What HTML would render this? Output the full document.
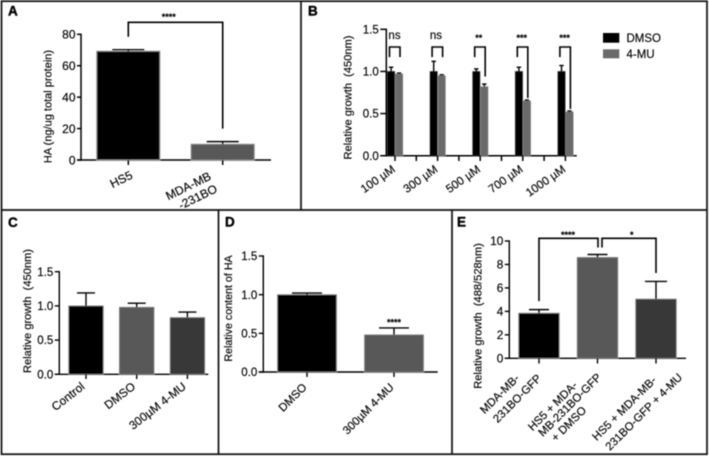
<!DOCTYPE html>
<html>
<head>
<meta charset="utf-8">
<style>
html,body{margin:0;padding:0;background:#fff;width:709px;height:457px;overflow:hidden}
svg{display:block;font-family:"Liberation Sans",sans-serif}
text{stroke:#000;stroke-width:0.15px}
</style>
</head>
<body>
<svg id="figure" width="709" height="457" viewBox="0 0 709 457" xmlns="http://www.w3.org/2000/svg">
  <defs><filter id="soft" x="-2%" y="-2%" width="104%" height="104%"><feGaussianBlur stdDeviation="0.4"/></filter></defs>
  <rect width="709" height="457" fill="#fff"/>
  <g id="root" filter="url(#soft)">
    <g stroke="#111" stroke-width="1.7" fill="none">
      <rect x="1.5" y="1.2" width="705.5" height="453"/>
      <line x1="301" y1="1" x2="301" y2="210"/>
      <line x1="1" y1="210" x2="707" y2="210"/>
      <line x1="218.500" y1="210" x2="218.500" y2="454"/>
      <line x1="452" y1="210" x2="452" y2="454"/>
    </g>
  </g>
</svg>
<script>
// Panel A data
const panelACategories = [["HS5"], ["MDA-MB", "-231BO"]];
const panelAValues = [69.2, 10];
const panelAErrors = [1, 1.7];
const panelATicks = [0, 20, 40, 60, 80];
// Panel B data
const panelBCategories = ["100 µM", "300 µM", "500 µM", "700 µM", "1000 µM"];
const panelBDmso = [1, 1, 1, 1, 1];
const panelBDmsoErrors = [0.05, 0.12, 0.03, 0.05, 0.07];
const panelBMu = [0.97, 0.95, 0.82, 0.65, 0.52];
const panelBMuErrors = [0.01, 0.01, 0.03, 0.01, 0.01];
const panelBTicks = [0, 0.5, 1, 1.5];
const panelBSignificance = ["ns", "ns", "**", "***", "***"];
const panelBRightFoot = [1.17, 1.17, 0.94, 0.685, 0.555];
const panelBLeftFoot = [1.17, 1.17, 1.17, 1.17, 1.17];
const panelBBracketTop = 1.29;
// Panel C data
const panelCCategories = ["Control", "DMSO", "300µM 4-MU"];
const panelCValues = [1, 0.98, 0.83];
const panelCErrors = [0.19, 0.06, 0.08];
const panelCTicks = [0, 0.5, 1, 1.5];
// Panel D data
const panelDCategories = ["DMSO", "300µM 4-MU"];
const panelDValues = [1, 0.48];
const panelDErrors = [0.02, 0.09];
const panelDTicks = [0, 0.5, 1, 1.5];
// Panel E data
const panelECategories = [["MDA-MB-", "231BO-GFP"], ["HS5 + MDA-", "MB-231BO-GFP", "+ DMSO"], ["HS5 + MDA-MB-", "231BO-GFP + 4-MU"]];
const panelEValues = [3.85, 8.6, 5.05];
const panelEErrors = [0.3, 0.25, 1.5];
const panelETicks = [0, 2, 4, 6, 8, 10];

const NS = "http://www.w3.org/2000/svg";
const root = document.getElementById("root");

function add(parent, tag, props, text) {
  const el = document.createElementNS(NS, tag);
  for (const k in props) el.setAttribute(k, props[k]);
  if (text !== undefined) el.textContent = text;
  parent.appendChild(el);
  return el;
}
function scaleLinear(d0, d1, r0, r1) {
  return v => r0 + (v - d0) / (d1 - d0) * (r1 - r0);
}
function group(name) {
  const g = add(root, "g", {});
  
  
  return g;
}
function seg(parent, x1, y1, x2, y2, w, name) {
  const el = add(parent, "line", {x1, y1, x2, y2, stroke: "#000", "stroke-width": w});
  
  
  return el;
}
function drawText(parent, x, y, str, size, anchor, name, extra) {
  const el = add(parent, "text", Object.assign({x, y, "font-size": size, "text-anchor": anchor, fill: "#000"}, extra || {}), str);
  
  
  return el;
}
function drawAxes(g, o) {
  const y = o.y;
  seg(g, o.axisX, y(o.ticks[o.ticks.length - 1]) - 0.7, o.axisX, y(0) + 0.7, o.sw, "y-axis");
  seg(g, o.axisX - o.tickLen, y(0), o.baseEnd, y(0), o.sw, "x-axis");
  o.ticks.forEach(t => {
    seg(g, o.axisX - o.tickLen, y(t), o.axisX, y(t), o.sw, "y-tick");
    drawText(g, o.axisX - o.tickLen - 1.5, y(t) + o.fs * 0.36, o.fmt(t), o.fs, "end", "y-tick-label");
  });
  const ly = o.labelX;
  const lab = drawText(g, ly, o.labelY, o.label, o.labelSize, "middle", "y-axis-title");
  lab.setAttribute("transform", "rotate(-90 " + ly + " " + o.labelY + ")");
}
function drawBar(g, x0, w, value, err, o, fill, edge, capW) {
  const y = o.y;
  const cx = x0 + w / 2;
  const bar = add(g, "rect", {x: x0, y: y(value), width: w, height: y(0) - y(value), fill: fill, stroke: edge, "stroke-width": o.edgeW});
  
  
  seg(g, cx, y(value), cx, y(value + err), o.errW, "error-bar");
  seg(g, cx - capW / 2, y(value + err), cx + capW / 2, y(value + err), o.errW, "error-cap");
}
function drawRotatedLabel(g, ax, ay, lines, size, angle, lh) {
  const el = add(g, "text", {transform: "translate(" + ax + " " + ay + ") rotate(" + angle + ")", "font-size": size, "text-anchor": "end", fill: "#000"});
  
  
  lines.forEach((s, i) => {
    add(el, "tspan", {x: 0, y: i * lh}, s);
  });
}
function bracket(g, pts) {
  const el = add(g, "polyline", {points: pts.map(p => p.join(",")).join(" "), fill: "none", stroke: "#000", "stroke-width": 1.6});
  
  
}
function panelLetter(g, x, y, s) {
  drawText(g, x, y, s, 13.5, "start", "panel-letter", {"font-weight": "bold", style: "stroke-width:0.4px"});
}

/* Panel A */
(function () {
  const g = group("panel-a-chart");
  panelLetter(g, 8, 15.500, "A");
  const o = {y: scaleLinear(0, 80, 160, 34.3), ticks: panelATicks, axisX: 81, tickLen: 4, baseEnd: 271, sw: 1.5, fs: 12,
    fmt: String, label: "HA (ng/ug total protein)", labelX: 51.5, labelY: 106.5, labelSize: 11, edgeW: 1, errW: 1.4};
  drawAxes(g, o);
  const xc = i => 128.3 + 94.4 * i;
  panelAValues.forEach((v, i) => {
    drawBar(g, xc(i) - 31.5, 63, v, panelAErrors[i], o, i ? "#585858" : "#000", "#8a8a8a", 32);
    seg(g, xc(i), 160, xc(i), 165, 1.5, "x-tick");
    const ax = i ? 212 : 133.5;
    const ay = i ? 179 : 178;
    drawRotatedLabel(g, ax, ay, panelACategories[i], 12, -26, 14);
  });
  const top = 22.3;
  bracket(g, [[xc(0), o.y(panelAValues[0] + panelAErrors[0]) - 13], [xc(0), top], [xc(1), top], [xc(1), o.y(panelAValues[1] + panelAErrors[1]) - 13]]);
  drawText(g, 168.700, 20, "****", 9, "middle", "significance-stars", {"font-weight": "bold"});
})();

/* Panel B */
(function () {
  const g = group("panel-b-chart");
  panelLetter(g, 308, 15.500, "B");
  const o = {y: scaleLinear(0, 1.5, 155.7, 29.3), ticks: panelBTicks, axisX: 386.3, tickLen: 6, baseEnd: 576.7, sw: 1.5, fs: 11.5,
    fmt: v => v.toFixed(1), label: "Relative growth \u00A0(450nm)", labelX: 351.5, labelY: 97.5, labelSize: 11.1, edgeW: 0.5, errW: 1.4};
  drawAxes(g, o);
  const xc = i => 395 + 42.6 * i;
  panelBCategories.forEach((c, i) => {
    drawBar(g, xc(i) - 7.6, 7.4, panelBDmso[i], panelBDmsoErrors[i], o, "#000", "#333", 4.5);
    drawBar(g, xc(i) + 0.4, 7.4, panelBMu[i], panelBMuErrors[i], o, "#6a6a6a", "#808080", 4.5);
    seg(g, xc(i), 155.7, xc(i), 161, 1.5, "x-tick");
    if (i < panelBCategories.length - 1) seg(g, xc(i) + 21.3, 155.7, xc(i) + 21.3, 161, 1.5, "x-tick");
    drawRotatedLabel(g, xc(i) + 1, 171, [c], 11.6, -35, 12);
    const lx = xc(i) - 5.5;
    const rx = xc(i) + 5;
    const ty = o.y(panelBBracketTop);
    bracket(g, [[lx, o.y(panelBLeftFoot[i])], [lx, ty], [rx, ty], [rx, o.y(panelBRightFoot[i])]]);
    const ns = panelBSignificance[i] === "ns";
    drawText(g, xc(i) - 0.5 + (i ? (i * 0.3) - 1.5 : 0), ns ? 39 : 41, panelBSignificance[i], ns ? 11.5 : 9, "middle", "significance-label", ns ? {} : {"font-weight": "bold"});
  });
  const l1 = add(g, "rect", {x: 603, y: 33, width: 16.300, height: 9.700, fill: "#000"});
  
  
  drawText(g, 626.500, 41.800, "DMSO", 11.5, "start", "legend-label-dmso");
  const l2 = add(g, "rect", {x: 603, y: 49.300, width: 16.300, height: 9, fill: "#6a6a6a"});
  
  
  drawText(g, 626.500, 58, "4-MU", 11.5, "start", "legend-label-4mu");
})();

/* Panel C */
(function () {
  const g = group("panel-c-chart");
  panelLetter(g, 8, 227, "C");
  const o = {y: scaleLinear(0, 1.5, 374.3, 271.7), ticks: panelCTicks, axisX: 59.3, tickLen: 4.5, baseEnd: 208.300, sw: 1.4, fs: 11.5,
    fmt: v => v.toFixed(1), label: "Relative growth \u00A0(450nm)", labelX: 31, labelY: 311, labelSize: 11.1, edgeW: 0.8, errW: 1.4};
  drawAxes(g, o);
  const fills = ["#000", "#585858", "#383838"];
  const xc = i => 86 + 50.7 * i;
  panelCValues.forEach((v, i) => {
    drawBar(g, xc(i) - 17.3, 34.6, v, panelCErrors[i], o, fills[i], "#888", 18);
    seg(g, xc(i), 374.3, xc(i), 379, 1.4, "x-tick");
    drawRotatedLabel(g, xc(i) - 0.5, 388, [panelCCategories[i]], 11.8, -38, 12);
  });
})();

/* Panel D */
(function () {
  const g = group("panel-d-chart");
  panelLetter(g, 225, 226.5, "D");
  const o = {y: scaleLinear(0, 1.5, 372, 256), ticks: panelDTicks, axisX: 263.3, tickLen: 4.5, baseEnd: 437.7, sw: 1.4, fs: 11.5,
    fmt: v => v.toFixed(1), label: "Relative content of HA", labelX: 232, labelY: 308.5, labelSize: 10.7, edgeW: 0.8, errW: 1.4};
  drawAxes(g, o);
  const xc = i => 307 + 87 * i;
  panelDValues.forEach((v, i) => {
    drawBar(g, xc(i) - 29.5, 59, v, panelDErrors[i], o, i ? "#585858" : "#000", "#888", 30);
    seg(g, xc(i), 372, xc(i), 377, 1.4, "x-tick");
    drawRotatedLabel(g, xc(i) + 0.5, 388, [panelDCategories[i]], 11.5, -45, 12);
  });
  drawText(g, xc(1), 325.5, "****", 9, "middle", "significance-stars", {"font-weight": "bold"});
})();

/* Panel E */
(function () {
  const g = group("panel-e-chart");
  panelLetter(g, 457, 226.5, "E");
  const o = {y: scaleLinear(0, 10, 358.3, 241), ticks: panelETicks, axisX: 509.300, tickLen: 4.5, baseEnd: 686, sw: 1.4, fs: 11.8,
    fmt: String, label: "Relative growth \u00A0(488/528nm)", labelX: 481.5, labelY: 316, labelSize: 11.1, edgeW: 0.8, errW: 1.4};
  drawAxes(g, o);
  const fills = ["#000", "#585858", "#383838"];
  const xc = i => 539 + 58.5 * i;
  // per-line end offsets of the rotated labels, relative to the category tick
  const lineDx = [[-19, 3], [-19.5, 4.5, -10.5], [1, 27]];
  const lineDy = [[379, 379], [386, 378, 411], [381, 378]];
  panelEValues.forEach((v, i) => {
    drawBar(g, xc(i) - 20.3, 40.6, v, panelEErrors[i], o, fills[i], "#888", i === 2 ? 22 : 20);
    seg(g, xc(i), 358.3, xc(i), 363.5, 1.4, "x-tick");
    panelECategories[i].forEach((line, j) => {
      drawRotatedLabel(g, xc(i) + lineDx[i][j], lineDy[i][j], [line], 11.4, -45, 12);
    });
  });
  const top = 238.3;
  const foot = i => o.y(panelEValues[i] + panelEErrors[i]);
  bracket(g, [[xc(0), foot(0) - 8.5], [xc(0), top], [xc(1) + 0.5, top], [xc(1) + 0.5, foot(1) - 7]]);
  bracket(g, [[xc(1) + 4.5, foot(1) - 7], [xc(1) + 4.5, top], [xc(2), top], [xc(2), foot(2) - 8.5]]);
  drawText(g, 568, 238, "****", 9, "middle", "significance-stars", {"font-weight": "bold"});
  drawText(g, 631.7, 238, "*", 9, "middle", "significance-stars", {"font-weight": "bold"});
})();
</script>
</body>
</html>
